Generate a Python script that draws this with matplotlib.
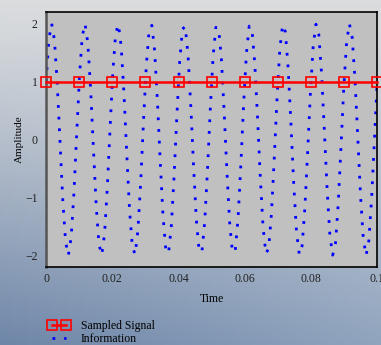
import matplotlib
matplotlib.use("Agg")
import matplotlib.pyplot as plt
import numpy as np
from matplotlib.colors import to_rgb

# signal parameters
amplitude = 2.0
freq = 100.0          # Hz
phase = np.pi / 6     # gives 1.0 at every sample instant
fs = 100.0            # sampling rate of the red trace
t_end = 0.1

t = np.linspace(0, t_end, 120)
info = amplitude * np.sin(2 * np.pi * freq * t + phase)
t_s = np.arange(0, t_end + 1e-9, 1 / fs)
sampled = amplitude * np.sin(2 * np.pi * freq * t_s + phase)

xticks = [0, 0.02, 0.04, 0.06, 0.08, 0.1]
xtick_labels = ["0", "0.02", "0.04", "0.06", "0.08", "0.1"]
yticks = [-2, -1, 0, 1, 2]
ytick_labels = ["\u22122", "\u22121", "0", "1", "2"]

plt.rcParams['font.family'] = ['Liberation Serif', 'DejaVu Serif']

fig = plt.figure(figsize=(3.81, 3.45), dpi=100)

# background gradient: light grey at top, blue-grey at bottom left
bg = fig.add_axes([0, 0, 1, 1], zorder=-10)
top = np.array(to_rgb("#dadcde"))
bl = np.array(to_rgb("#6e86a8"))
br = np.array(to_rgb("#90a4be"))
ny, nx = 100, 100
yy, xx = np.mgrid[0:1:ny * 1j, 0:1:nx * 1j]
bottom = bl[None, None, :] * (1 - xx[..., None]) + br[None, None, :] * xx[..., None]
w = np.clip(yy, 0, 1)[..., None] ** 1.2
img = top[None, None, :] * (1 - w) + bottom * w
bg.imshow(img, aspect='auto', extent=[0, 1, 0, 1], origin='upper')
bg.axis('off')

ax = fig.add_axes([0.121, 0.226, 0.869, 0.739])
ax.set_facecolor("#c0c0c0")
ax.plot(t_s, sampled, color='red', lw=1.8, marker='s', ms=7.5, mfc='none',
        mec='red', mew=1.2, label='Sampled Signal', clip_on=False, zorder=3)
ax.plot(t, info, color='blue', lw=2.0, ls=(0, (1, 3.2)), label='Information', zorder=2)

ax.set_xlim(0, 0.1)
ax.set_ylim(-2.2, 2.2)
ax.set_xticks(xticks)
ax.set_xticklabels(xtick_labels)
ax.set_yticks(yticks)
ax.set_yticklabels(ytick_labels)
ax.tick_params(axis='x', length=0, labelsize=8.5, pad=4, colors='#222222')
ax.tick_params(axis='y', length=0, labelsize=8.5, pad=6, colors='#222222')
for s in ax.spines.values():
    s.set_color('black')
    s.set_linewidth(1.2)
ax.spines['left'].set_color('#555555')
ax.spines['left'].set_linewidth(1.8)

ax.set_xlabel("Time", fontsize=8.5, labelpad=6)
ax.set_ylabel("Amplitude", fontsize=8, labelpad=1)

fig.legend(loc='lower left', bbox_to_anchor=(0.1, -0.03), frameon=False,
           fontsize=8.5, handlelength=1.8, handletextpad=0.9, labelspacing=0.05,
           numpoints=2)

fig.savefig("out.png", dpi=100)
